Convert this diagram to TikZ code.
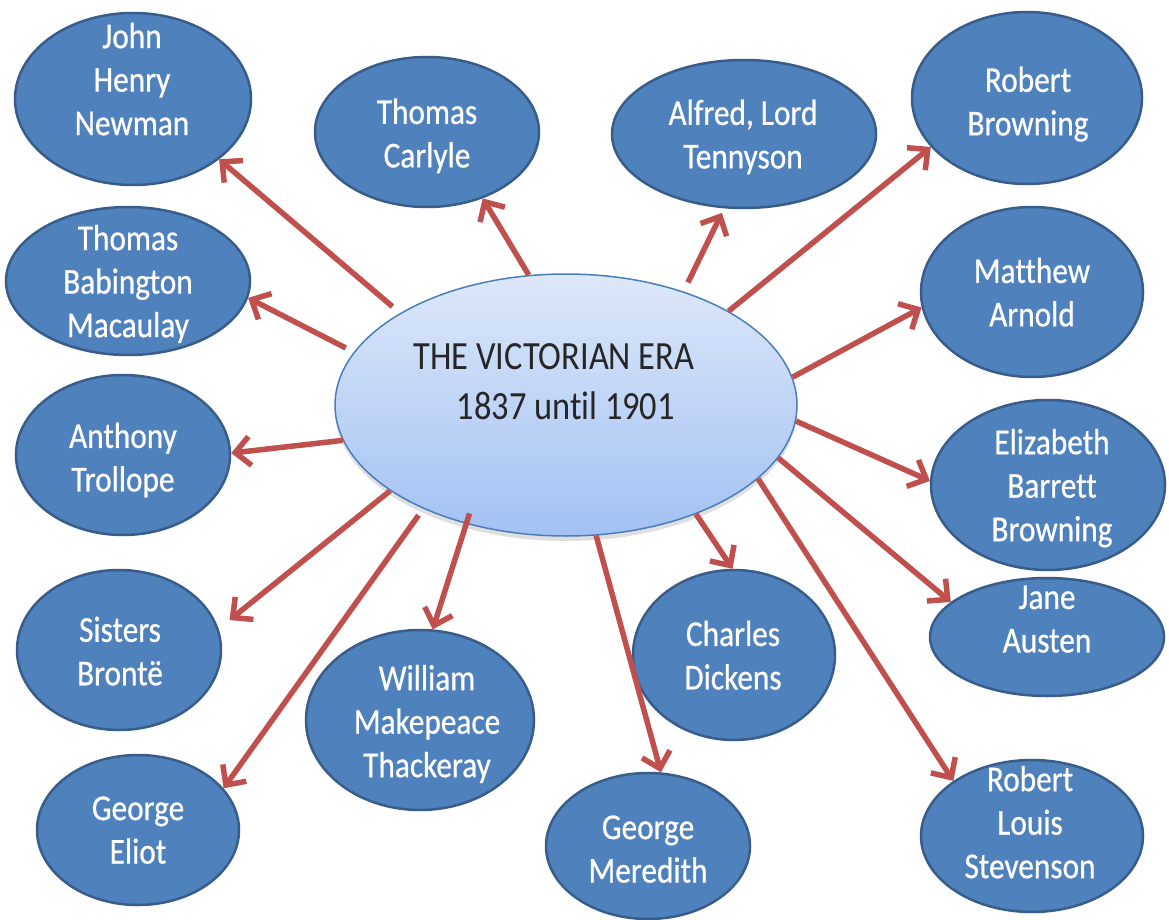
\documentclass[tikz,border=0pt]{standalone}
\usepackage{fontspec}
\newfontfamily\labelfont{Carlito}[FakeStretch=0.86, FakeBold=0.6, Ligatures=NoCommon]
\newfontfamily\titlefont{Carlito}[FakeStretch=0.86, Ligatures=NoCommon]
\usetikzlibrary{shapes.geometric,arrows.meta,shadows}

\definecolor{persblue}{HTML}{4F81BD}
\definecolor{persedge}{HTML}{385D8A}
\definecolor{linkred}{HTML}{C0504D}
\definecolor{hubtop}{HTML}{DDE8F9}
\definecolor{hubbottom}{HTML}{A2C1F3}
\definecolor{hubedge}{HTML}{4A7EBB}

\tikzset{
  person/.style={ellipse, draw=persedge, line width=2.5pt, fill=persblue, inner sep=0pt},
  pname/.style={text=white, align=center, inner sep=0pt, text depth=0pt,
    font=\labelfont\fontsize{36.4pt}{43.5pt}\selectfont},
  hub/.style={ellipse, draw=hubedge, line width=1.5pt, top color=hubtop, bottom color=hubbottom,
    inner sep=0pt, drop shadow={shadow xshift=0pt, shadow yshift=-5pt, opacity=0.25}},
  hubtext/.style={text=black!85, align=left, inner sep=0pt, text depth=0pt,
    font=\titlefont\fontsize{40pt}{50pt}\selectfont},
  link/.style={draw=linkred, line width=5.5pt, -{Straight Barb[length=15pt,width=29pt]}}
}

\begin{document}
\begin{tikzpicture}[x=1pt,y=-1pt]
  \fill[white] (0,0) rectangle (1169,920);
  \useasboundingbox (0,0) rectangle (1169,920);

  % central topic
  \node[hub, minimum width=462pt, minimum height=262pt] (era) at (566,405) {};

  % authors
  \node[person, minimum width=236pt, minimum height=172pt] (newman)    at (133,99)   {};
  \node[person, minimum width=224pt, minimum height=150pt] (carlyle)   at (427,132)  {};
  \node[person, minimum width=264pt, minimum height=148pt] (tennyson)  at (744,134)  {};
  \node[person, minimum width=230pt, minimum height=172pt] (rbrowning) at (1027,98)  {};
  \node[person, minimum width=244pt, minimum height=148pt] (macaulay)  at (128,281)  {};
  \node[person, minimum width=222pt, minimum height=170pt] (arnold)    at (1032,292) {};
  \node[person, minimum width=214pt, minimum height=160pt] (trollope)  at (123,455)  {};
  \node[person, minimum width=234pt, minimum height=170pt] (ebrowning) at (1048,485) {};
  \node[person, minimum width=204pt, minimum height=160pt] (bronte)    at (119,650)  {};
  \node[person, minimum width=234pt, minimum height=118pt] (austen)    at (1047,637) {};
  \node[person, minimum width=202pt, minimum height=150pt] (eliot)     at (138,830)  {};
  \node[person, minimum width=228pt, minimum height=180pt] (thackeray) at (420,720)  {};
  \node[person, minimum width=204pt, minimum height=146pt] (meredith)  at (648,846)  {};
  \node[person, minimum width=202pt, minimum height=170pt] (dickens)   at (734,655)  {};
  \node[person, minimum width=222pt, minimum height=152pt] (stevenson) at (1032,836) {};

  % arrows from the era to each author
  \draw[link, shorten <=10pt] (era.151)   -- (newman.-35);
  \draw[link]                 (era.106.5) -- (carlyle.-50);
  \draw[link, shorten <=10pt, shorten >=5pt] (era.44.5) -- (tennyson.-105);
  \draw[link]                 (era.30.1)  -- (rbrowning.207.3);
  \draw[link, shorten <=9pt]  (era.166.9) -- (macaulay.-8.5);
  \draw[link]                 (era.7.6)   -- (arnold.188.3);
  \draw[link]                 (era.189.8) -- (trollope.1);
  \draw[link]                 (era.-4.2)  -- (ebrowning.178.6);
  \draw[link, shorten >=14pt] (era.206.6) -- (bronte.12.5);
  \draw[link]                 (era.-14)   -- (austen.160.2);
  \draw[link, shorten <=8pt]  (era.216.4) -- (eliot.26.6);
  \draw[link, shorten <=-11pt] (era.230.8) -- (thackeray.82.6);
  \draw[link]                 (era.-77.4) -- (meredith.80.7);
  \draw[link]                 (era.-40.3) -- (dickens.91.3);
  \draw[link]                 (era.-21.1) -- (stevenson.145.5);

  % labels
  \node[hubtext] (eraT) at (554,382) {THE VICTORIAN ERA\\\hspace*{43pt}1837 until 1901};

  \node[pname] (newmanT)    at (132,79)   {John\\Henry\\Newman};
  \node[pname] (carlyleT)   at (427,133)  {Thomas\\Carlyle};
  \node[pname] (tennysonT)  at (743,134)  {Alfred, Lord\\Tennyson};
  \node[pname] (rbrowningT) at (1028,101) {Robert\\Browning};
  \node[pname] (macaulayT)  at (128,281)  {Thomas\\Babington\\Macaulay};
  \node[pname] (arnoldT)    at (1032,292) {Matthew\\Arnold};
  \node[pname] (trollopeT)  at (123,457)  {Anthony\\Trollope};
  \node[pname] (ebrowningT) at (1052,485) {Elizabeth\\Barrett\\Browning};
  \node[pname] (bronteT)    at (120,651)  {Sisters\\Brontë};
  \node[pname] (austenT)    at (1047,619) {Jane\\Austen};
  \node[pname] (eliotT)     at (138,830)  {George\\Eliot};
  \node[pname] (thackerayT) at (427,721)  {William\\Makepeace\\Thackeray};
  \node[pname] (meredithT)  at (648,849)  {George\\Meredith};
  \node[pname] (dickensT)   at (733,655)  {Charles\\Dickens};
  \node[pname] (stevensonT) at (1030,822) {Robert\\Louis\\Stevenson};
\end{tikzpicture}
\end{document}
